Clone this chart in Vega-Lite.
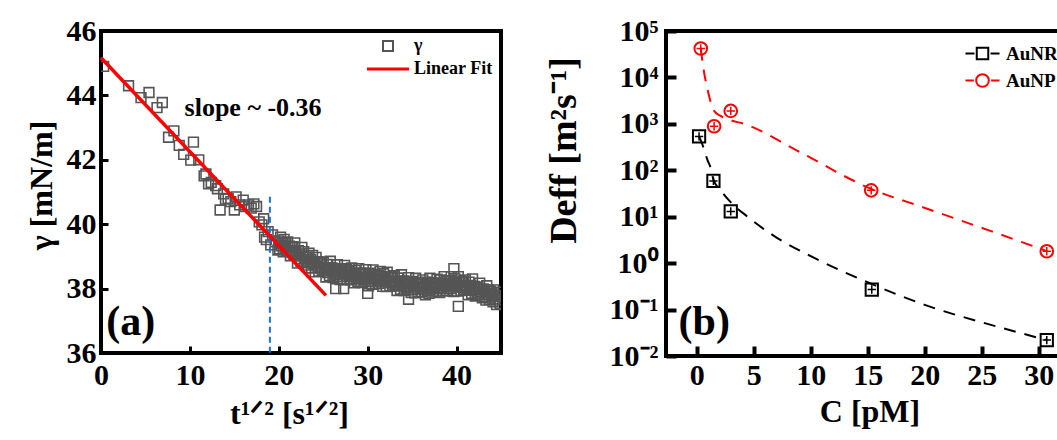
{
  "$schema": "https://vega.github.io/schema/vega-lite/v6.json",
  "padding": {"left": 23, "top": 14, "right": 0, "bottom": 0},
  "spacing": 40,
  "resolve": {"scale": {"color": "independent", "shape": "independent"}, "legend": {"color": "independent", "shape": "independent"}},
  "config": {
    "font": "Liberation Serif",
    "view": {"stroke": "black", "strokeWidth": 4},
    "axis": {
      "domain": false, "grid": false, "ticks": true, "tickColor": "black",
      "labelFont": "Liberation Serif", "labelFontWeight": "bold", "labelFontSize": 30, "labelColor": "black",
      "titleFont": "Liberation Serif", "titleFontWeight": "bold", "titleFontSize": 32, "titleColor": "black",
      "labelFlush": false, "labelOverlap": false, "labelBound": false
    },
    "legend": {"labelFont": "Liberation Serif", "labelFontWeight": "bold", "labelColor": "black"}
  },
  "datasets": {
    "gamma": [
      {"t":0.3,"g":44.9},{"t":3.1,"g":44.3},{"t":4.5,"g":43.93},{"t":5.4,"g":44.09},{"t":6.3,"g":43.62},{"t":6.9,"g":43.78},{"t":7.6,"g":42.7},{"t":8.2,"g":42.9},{"t":8.8,"g":42.45},{"t":9.3,"g":42.17},{"t":10.1,"g":41.99},{"t":10.4,"g":42.55},{"t":11.0,"g":42.0},{"t":11.6,"g":41.5},{"t":11.8,"g":41.56},{"t":12.1,"g":41.25},{"t":12.4,"g":41.3},{"t":12.9,"g":41.2},{"t":13.1,"g":41.1},{"t":13.4,"g":40.44},{"t":13.8,"g":40.94},{"t":14.0,"g":40.78},{"t":14.3,"g":40.8},{"t":14.6,"g":40.7},{"t":15.0,"g":40.44},{"t":15.2,"g":40.85},{"t":15.6,"g":40.6},{"t":16.0,"g":40.75},{"t":16.2,"g":40.55},{"t":16.6,"g":40.6},{"t":16.9,"g":40.5},{"t":17.2,"g":40.63},{"t":17.5,"g":40.55},{"t":17.8,"g":40.07},{"t":18.1,"g":39.98},{"t":18.3,"g":40.17},{"t":18.4,"g":39.6},{"t":18.6,"g":39.52},{"t":18.8,"g":39.77},{"t":19.1,"g":39.36},{"t":19.3,"g":39.67},{"t":19.6,"g":39.45},{"t":19.9,"g":39.2},
      {"t":20.0,"g":39.48},{"t":20.1,"g":39.23},{"t":20.2,"g":39.60},{"t":20.3,"g":39.33},{"t":20.4,"g":39.40},{"t":20.5,"g":39.14},{"t":20.6,"g":39.53},{"t":20.7,"g":39.28},{"t":20.8,"g":39.43},{"t":20.9,"g":39.18},
      {"t":21.0,"g":39.45},{"t":21.1,"g":39.18},{"t":21.2,"g":39.32},{"t":21.3,"g":39.02},{"t":21.4,"g":39.28},{"t":21.5,"g":39.12},{"t":21.6,"g":39.30},{"t":21.7,"g":39.05},{"t":21.8,"g":39.42},{"t":21.9,"g":39.15},
      {"t":22.0,"g":39.05},{"t":22.1,"g":38.79},{"t":22.2,"g":39.18},{"t":22.3,"g":38.93},{"t":22.4,"g":39.08},{"t":22.5,"g":38.83},{"t":22.6,"g":39.28},{"t":22.7,"g":39.01},{"t":22.8,"g":39.15},{"t":22.9,"g":38.85},
      {"t":23.0,"g":38.96},{"t":23.1,"g":38.80},{"t":23.2,"g":38.98},{"t":23.3,"g":38.73},{"t":23.4,"g":39.10},{"t":23.5,"g":38.83},{"t":23.6,"g":38.90},{"t":23.7,"g":38.64},{"t":23.8,"g":39.03},{"t":23.9,"g":38.78},
      {"t":24.0,"g":38.77},{"t":24.1,"g":38.52},{"t":24.2,"g":38.97},{"t":24.3,"g":38.70},{"t":24.4,"g":38.84},{"t":24.5,"g":38.54},{"t":24.6,"g":38.80},{"t":24.7,"g":38.64},{"t":24.8,"g":38.82},{"t":24.9,"g":38.57},
      {"t":25.0,"g":38.82},{"t":25.1,"g":38.55},{"t":25.2,"g":38.62},{"t":25.3,"g":38.36},{"t":25.4,"g":38.75},{"t":25.5,"g":38.50},{"t":25.6,"g":38.65},{"t":25.7,"g":38.40},{"t":25.8,"g":38.85},{"t":25.9,"g":38.58},
      {"t":26.0,"g":38.64},{"t":26.1,"g":38.34},{"t":26.2,"g":38.60},{"t":26.3,"g":38.44},{"t":26.4,"g":38.62},{"t":26.5,"g":38.37},{"t":26.6,"g":38.74},{"t":26.7,"g":38.47},{"t":26.8,"g":38.54},{"t":26.9,"g":38.28},
      {"t":27.0,"g":38.62},{"t":27.1,"g":38.37},{"t":27.2,"g":38.52},{"t":27.3,"g":38.27},{"t":27.4,"g":38.72},{"t":27.5,"g":38.45},{"t":27.6,"g":38.59},{"t":27.7,"g":38.29},{"t":27.8,"g":38.55},{"t":27.9,"g":38.39},
      {"t":28.0,"g":38.52},{"t":28.1,"g":38.27},{"t":28.2,"g":38.64},{"t":28.3,"g":38.37},{"t":28.4,"g":38.44},{"t":28.5,"g":38.18},{"t":28.6,"g":38.57},{"t":28.7,"g":38.32},{"t":28.8,"g":38.47},{"t":28.9,"g":38.22},
      {"t":29.0,"g":38.62},{"t":29.1,"g":38.35},{"t":29.2,"g":38.49},{"t":29.3,"g":38.19},{"t":29.4,"g":38.45},{"t":29.5,"g":38.29},{"t":29.6,"g":38.47},{"t":29.7,"g":38.22},{"t":29.8,"g":38.59},{"t":29.9,"g":38.32},
      {"t":30.0,"g":38.35},{"t":30.1,"g":38.09},{"t":30.2,"g":38.48},{"t":30.3,"g":38.23},{"t":30.4,"g":38.38},{"t":30.5,"g":38.13},{"t":30.6,"g":38.58},{"t":30.7,"g":38.31},{"t":30.8,"g":38.45},{"t":30.9,"g":38.15},
      {"t":31.0,"g":38.39},{"t":31.1,"g":38.23},{"t":31.2,"g":38.41},{"t":31.3,"g":38.16},{"t":31.4,"g":38.53},{"t":31.5,"g":38.26},{"t":31.6,"g":38.33},{"t":31.7,"g":38.07},{"t":31.8,"g":38.46},{"t":31.9,"g":38.21},
      {"t":32.0,"g":38.31},{"t":32.1,"g":38.06},{"t":32.2,"g":38.51},{"t":32.3,"g":38.24},{"t":32.4,"g":38.38},{"t":32.5,"g":38.08},{"t":32.6,"g":38.34},{"t":32.7,"g":38.18},{"t":32.8,"g":38.36},{"t":32.9,"g":38.11},
      {"t":33.0,"g":38.40},{"t":33.1,"g":38.13},{"t":33.2,"g":38.20},{"t":33.3,"g":37.94},{"t":33.4,"g":38.33},{"t":33.5,"g":38.08},{"t":33.6,"g":38.23},{"t":33.7,"g":37.98},{"t":33.8,"g":38.43},{"t":33.9,"g":38.16},
      {"t":34.0,"g":38.24},{"t":34.1,"g":37.94},{"t":34.2,"g":38.20},{"t":34.3,"g":38.04},{"t":34.4,"g":38.22},{"t":34.5,"g":37.97},{"t":34.6,"g":38.34},{"t":34.7,"g":38.07},{"t":34.8,"g":38.14},{"t":34.9,"g":37.88},
      {"t":35.0,"g":38.22},{"t":35.1,"g":37.97},{"t":35.2,"g":38.12},{"t":35.3,"g":37.87},{"t":35.4,"g":38.32},{"t":35.5,"g":38.05},{"t":35.6,"g":38.19},{"t":35.7,"g":37.89},{"t":35.8,"g":38.15},{"t":35.9,"g":37.99},
      {"t":36.0,"g":38.15},{"t":36.1,"g":37.90},{"t":36.2,"g":38.27},{"t":36.3,"g":38.00},{"t":36.4,"g":38.07},{"t":36.5,"g":37.81},{"t":36.6,"g":38.20},{"t":36.7,"g":37.95},{"t":36.8,"g":38.10},{"t":36.9,"g":37.85},
      {"t":37.0,"g":38.32},{"t":37.1,"g":38.05},{"t":37.2,"g":38.19},{"t":37.3,"g":37.89},{"t":37.4,"g":38.15},{"t":37.5,"g":37.99},{"t":37.6,"g":38.17},{"t":37.7,"g":37.92},{"t":37.8,"g":38.29},{"t":37.9,"g":38.02},
      {"t":38.0,"g":38.14},{"t":38.1,"g":37.88},{"t":38.2,"g":38.27},{"t":38.3,"g":38.02},{"t":38.4,"g":38.17},{"t":38.5,"g":37.92},{"t":38.6,"g":38.37},{"t":38.7,"g":38.10},{"t":38.8,"g":38.24},{"t":38.9,"g":37.94},
      {"t":39.0,"g":38.23},{"t":39.1,"g":38.07},{"t":39.2,"g":38.25},{"t":39.3,"g":38.00},{"t":39.4,"g":38.37},{"t":39.5,"g":38.10},{"t":39.6,"g":38.17},{"t":39.7,"g":37.91},{"t":39.8,"g":38.30},{"t":39.9,"g":38.05},
      {"t":40.0,"g":38.17},{"t":40.1,"g":37.92},{"t":40.2,"g":38.37},{"t":40.3,"g":38.10},{"t":40.4,"g":38.24},{"t":40.5,"g":37.94},{"t":40.6,"g":38.20},{"t":40.7,"g":38.04},{"t":40.8,"g":38.22},{"t":40.9,"g":37.97},
      {"t":41.0,"g":38.27},{"t":41.1,"g":38.00},{"t":41.2,"g":38.07},{"t":41.3,"g":37.81},{"t":41.4,"g":38.20},{"t":41.5,"g":37.95},{"t":41.6,"g":38.10},{"t":41.7,"g":37.85},{"t":41.8,"g":38.30},{"t":41.9,"g":38.03},
      {"t":42.0,"g":38.07},{"t":42.1,"g":37.77},{"t":42.2,"g":38.03},{"t":42.3,"g":37.87},{"t":42.4,"g":38.05},{"t":42.5,"g":37.80},{"t":42.6,"g":38.17},{"t":42.7,"g":37.90},{"t":42.8,"g":37.97},{"t":42.9,"g":37.71},
      {"t":43.0,"g":37.99},{"t":43.1,"g":37.74},{"t":43.2,"g":37.89},{"t":43.3,"g":37.64},{"t":43.4,"g":38.09},{"t":43.5,"g":37.82},{"t":43.6,"g":37.96},{"t":43.7,"g":37.66},{"t":43.8,"g":37.92},{"t":43.9,"g":37.76},
      {"t":44.0,"g":37.84},{"t":44.1,"g":37.59},{"t":44.2,"g":37.96},{"t":44.3,"g":37.69},{"t":44.4,"g":37.76},{"t":44.5,"g":37.50},{"t":44.6,"g":37.89},{"t":44.7,"g":37.64},{"t":44.8,"g":37.79},{"t":44.9,"g":37.54},
      {"t":26.4,"g":38.0},{"t":27.3,"g":38.0},{"t":30.0,"g":37.85},{"t":34.6,"g":37.67},{"t":39.7,"g":38.62},{"t":40.2,"g":37.45}
    ],
    "fit": [{"t":0,"g":45.17},{"t":25.3,"g":37.79}],
    "vline": [{"t":19,"g":40.85},{"t":19,"g":36}],
    "legA": [{"s":"γ"},{"s":"Linear Fit"}],
    "notesA": [{"t":9.4,"g":43.62,"label":"slope ~ -0.36","size":26},{"t":0.6,"g":36.95,"label":"(a)","size":42}],
    "deff": [
      {"series":"AuNR","c":0.2,"d":537},{"series":"AuNR","c":1.46,"d":59},{"series":"AuNR","c":2.98,"d":13},{"series":"AuNR","c":15.35,"d":0.27},{"series":"AuNR","c":30.7,"d":0.022},
      {"series":"AuNP","c":0.35,"d":42000},{"series":"AuNP","c":1.52,"d":890},{"series":"AuNP","c":2.98,"d":1900},{"series":"AuNP","c":15.3,"d":37},{"series":"AuNP","c":30.7,"d":1.8}
    ],
    "deffFit": [
      {"series":"AuNR","c":0.2,"d":537},{"series":"AuNR","c":0.5,"d":355},{"series":"AuNR","c":0.94,"d":166},{"series":"AuNR","c":1.23,"d":110},{"series":"AuNR","c":1.46,"d":63},{"series":"AuNR","c":2.1,"d":37},{"series":"AuNR","c":2.83,"d":22.4},{"series":"AuNR","c":4.45,"d":10},{"series":"AuNR","c":7,"d":3.55},{"series":"AuNR","c":10,"d":1.41},{"series":"AuNR","c":15.35,"d":0.355},{"series":"AuNR","c":20,"d":0.126},{"series":"AuNR","c":25.8,"d":0.0468},{"series":"AuNR","c":30.6,"d":0.0224},
      {"series":"AuNP","c":0.35,"d":41700},{"series":"AuNP","c":0.64,"d":12900},{"series":"AuNP","c":0.94,"d":5620},{"series":"AuNP","c":1.23,"d":2880},{"series":"AuNP","c":1.52,"d":1905},{"series":"AuNP","c":2.1,"d":1480},{"series":"AuNP","c":2.83,"d":1230},{"series":"AuNP","c":4.15,"d":1000},{"series":"AuNP","c":8.83,"d":263},{"series":"AuNP","c":15.26,"d":40},{"series":"AuNP","c":19.9,"d":15.8},{"series":"AuNP","c":25.8,"d":4.9},{"series":"AuNP","c":30.6,"d":1.86}
    ],
    "notesB": [{"c":-1.6,"d":0.054,"label":"(b)"}]
  },
  "hconcat": [
    {
      "width": 400,
      "height": 322,
      "encoding": {
        "x": {"field": "t", "type": "quantitative", "scale": {"domain": [0, 45], "nice": false},
          "axis": {"values": [0, 10, 20, 30, 40], "title": "t¹ᐟ² [s¹ᐟ²]", "tickSize": -7, "tickWidth": 3, "labelPadding": 14, "titlePadding": 8, "titleX": 188}},
        "y": {"field": "g", "type": "quantitative", "scale": {"domain": [36, 46], "nice": false, "zero": false},
          "axis": {"values": [36, 38, 40, 42, 44, 46], "title": "γ [mN/m]", "tickSize": -7, "tickWidth": 3, "labelPadding": 12, "titlePadding": 8, "titleY": 154}}
      },
      "layer": [
        {
          "data": {"name": "gamma"},
          "mark": {"type": "point", "shape": "square", "filled": false, "size": 95, "strokeWidth": 1.6, "opacity": 1, "clip": true, "color": "#555555"},
          "encoding": {}
        },
        {
          "data": {"name": "vline"},
          "mark": {"type": "line", "color": "#1f6fe0", "strokeWidth": 2, "strokeDash": [6, 4]},
          "encoding": {}
        },
        {
          "data": {"name": "fit"},
          "mark": {"type": "line", "strokeWidth": 3.5, "color": "#ff0000"},
          "encoding": {}
        },
        {
          "data": {"name": "notesA"},
          "mark": {"type": "text", "font": "Liberation Serif", "fontWeight": "bold", "color": "black", "align": "left", "baseline": "middle"},
          "encoding": {"text": {"field": "label"}, "size": {"field": "size", "type": "quantitative", "scale": null}}
        },
        {
          "data": {"name": "legA"},
          "transform": [{"filter": "false"}],
          "mark": {"type": "point", "filled": false, "opacity": 1},
          "encoding": {
            "x": {"value": 0}, "y": {"value": 0},
            "color": {"field": "s", "type": "nominal",
              "scale": {"domain": ["γ", "Linear Fit"], "range": ["#555555", "#ff0000"]},
              "legend": {"title": null, "orient": "none", "legendX": 276, "legendY": 4, "padding": 0,
                "symbolSize": 400, "symbolStrokeWidth": 2, "labelFontSize": 18, "labelOffset": 15, "rowPadding": 3}},
            "shape": {"field": "s", "type": "nominal",
              "scale": {"domain": ["γ", "Linear Fit"], "range": ["M-0.5,-0.5L0.5,-0.5L0.5,0.5L-0.5,0.5Z", "M-2,-0.04L2,-0.04L2,0.04L-2,0.04Z"]},
              "legend": {"title": null, "orient": "none", "legendX": 276, "legendY": 4, "padding": 0,
                "symbolSize": 400, "symbolStrokeWidth": 2, "labelFontSize": 18, "labelOffset": 15, "rowPadding": 3}}
          }
        }
      ]
    },
    {
      "width": 407,
      "height": 325,
      "encoding": {
        "x": {"field": "c", "type": "quantitative", "scale": {"domain": [-2.7, 33], "nice": false, "zero": false},
          "axis": {"values": [0, 5, 10, 15, 20, 25, 30], "title": "C [pM]", "tickSize": -10, "tickWidth": 4, "labelPadding": 14, "titlePadding": 6}},
        "y": {"field": "d", "type": "quantitative", "scale": {"type": "log", "domain": [0.01, 100000], "nice": false},
          "axis": {"values": [0.01, 0.1, 1, 10, 100, 1000, 10000, 100000], "title": "Deff    [m²s⁻¹]", "titleFontSize": 38, "tickSize": -10, "tickWidth": 4, "labelPadding": 18, "titlePadding": 26, "titleY": 119,
            "labelExpr": "'10' + ['⁻²','⁻¹','⁰','¹','²','³','⁴','⁵'][round(log(datum.value)/LN10)+2]"}}
      },
      "layer": [
        {
          "data": {"name": "deffFit"},
          "mark": {"type": "line", "strokeWidth": 2, "strokeDash": [12, 9], "interpolate": "monotone"},
          "encoding": {
            "color": {"field": "series", "type": "nominal",
              "scale": {"domain": ["AuNR", "AuNP"], "range": ["#000000", "#ff0000"]},
              "legend": {"title": null, "orient": "none", "legendX": 304, "legendY": 10, "padding": 0,
                "symbolSize": 529, "symbolStrokeWidth": 2, "symbolDash": [], "labelFontSize": 19, "labelOffset": 11, "rowPadding": 4}}
          }
        },
        {
          "data": {"name": "deff"},
          "transform": [{"filter": "false"}],
          "mark": {"type": "point", "filled": false, "opacity": 1},
          "encoding": {
            "color": {"field": "series", "type": "nominal"},
            "shape": {"field": "series", "type": "nominal",
              "scale": {"domain": ["AuNR", "AuNP"], "range": ["M-1.48,0L-0.7,0M-0.5,-0.5L0.5,-0.5L0.5,0.5L-0.5,0.5ZM0.7,0L1.48,0", "M-1.48,0L-0.75,0M-0.55,0A0.55,0.55 0 1,0 0.55,0A0.55,0.55 0 1,0 -0.55,0M0.75,0L1.48,0"]},
              "legend": {"title": null, "orient": "none", "legendX": 304, "legendY": 10, "padding": 0,
                "symbolSize": 529, "symbolStrokeWidth": 2, "symbolDash": [], "labelFontSize": 19, "labelOffset": 11, "rowPadding": 4}}
          }
        },
        {
          "data": {"name": "deff"},
          "transform": [{"filter": "datum.series === 'AuNR'"}],
          "mark": {"type": "point", "shape": "square", "filled": false, "size": 150, "strokeWidth": 2, "opacity": 1, "color": "#000000"},
          "encoding": {}
        },
        {
          "data": {"name": "deff"},
          "transform": [{"filter": "datum.series === 'AuNP'"}],
          "mark": {"type": "point", "shape": "circle", "filled": false, "size": 160, "strokeWidth": 2, "opacity": 1, "color": "#ff0000"},
          "encoding": {}
        },
        {
          "data": {"name": "deff"},
          "mark": {"type": "point", "filled": false, "shape": "M-1,0L1,0M0,-1L0,1", "size": 70, "strokeWidth": 1.5, "opacity": 1},
          "encoding": {"color": {"field": "series", "type": "nominal"}}
        },
        {
          "data": {"name": "notesB"},
          "mark": {"type": "text", "font": "Liberation Serif", "fontWeight": "bold", "fontSize": 42, "color": "black", "align": "left", "baseline": "middle"},
          "encoding": {"text": {"field": "label"}}
        }
      ]
    }
  ]
}
